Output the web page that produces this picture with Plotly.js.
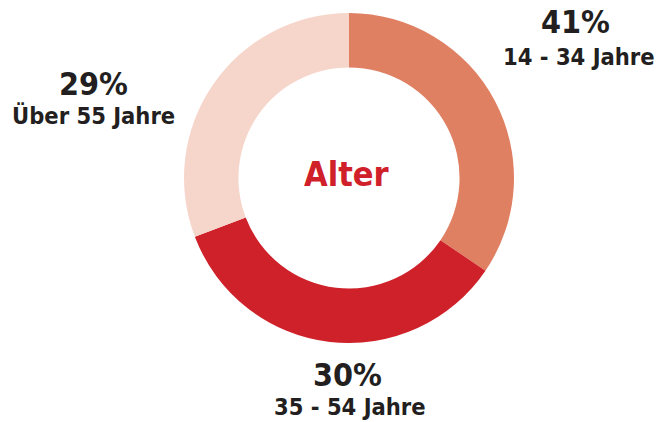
<!DOCTYPE html>
<html>
<head>
<meta charset="utf-8">
<script src="https://cdn.plot.ly/plotly-3.0.1.min.js"></script>
<style>html,body{margin:0;padding:0;background:#fff}#chart{width:657px;height:422px}</style>
</head>
<body>
<div id="chart"></div>
<script>
const categories = ["14 - 34 Jahre", "35 - 54 Jahre", "Über 55 Jahre"];
// percentages printed on the chart
const percentLabels = [41, 30, 29];
// slice shares as drawn in the picture (measured from the arc angles)
const sliceValues = [34.5, 34.7, 30.8];
const colors = ["#E08063", "#CF2129", "#F6D6CA"];
const centerTitle = "Alter";

const W = 657, H = 422;
const cx = 349, cy = 178, R = 165;
const font = "'DejaVu Sans Condensed', 'Liberation Sans Narrow', sans-serif";

// label positions in pixels (percent line, category line)
const pctPos = [{x: 575, y: 22}, {x: 347, y: 375}, {x: 93, y: 84}];
const catPos = [{x: 579, y: 57}, {x: 350, y: 407}, {x: 93, y: 116}];

const annotations = [];
const px = (x) => x / W, py = (y) => 1 - y / H;
categories.forEach((c, i) => {
  annotations.push({
    xref: 'paper', yref: 'paper', x: px(pctPos[i].x), y: py(pctPos[i].y),
    xanchor: 'center', yanchor: 'middle', showarrow: false,
    text: percentLabels[i] + '%',
    font: {family: font, color: '#231f20', weight: 700, size: 32}
  });
  annotations.push({
    xref: 'paper', yref: 'paper', x: px(catPos[i].x), y: py(catPos[i].y),
    xanchor: 'center', yanchor: 'middle', showarrow: false,
    text: c,
    font: {family: font, color: '#231f20', weight: 700, size: 23.5}
  });
});
annotations.push({
  xref: 'paper', yref: 'paper', x: px(cx - 2), y: py(174),
  xanchor: 'center', yanchor: 'middle', showarrow: false,
  text: centerTitle,
  font: {family: font, color: '#D0202A', weight: 700, size: 34}
});

const data = [{
  type: 'pie',
  labels: categories,
  values: sliceValues,
  hole: 0.67,
  sort: false,
  direction: 'clockwise',
  rotation: 0,
  textinfo: 'none',
  hoverinfo: 'none',
  marker: {colors: colors, line: {width: 0}},
  domain: {x: [(cx - R) / W, (cx + R) / W], y: [1 - (cy + R) / H, 1 - (cy - R) / H]},
  showlegend: false
}];

const layout = {
  width: W, height: H,
  margin: {l: 0, r: 0, t: 0, b: 0},
  paper_bgcolor: '#ffffff',
  showlegend: false,
  annotations: annotations
};

Plotly.newPlot('chart', data, layout, {displayModeBar: false, staticPlot: true});
</script>
</body>
</html>
